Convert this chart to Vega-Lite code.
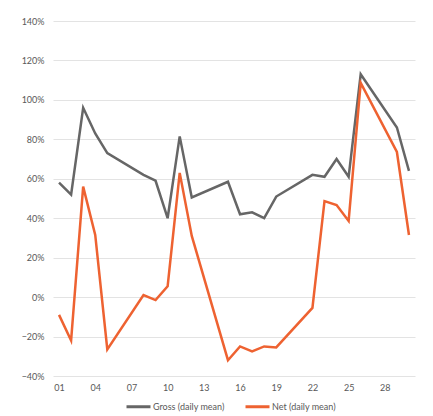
{
  "$schema": "https://vega.github.io/schema/vega-lite/v6.json",
  "autosize": {"type": "none"},
  "width": 362,
  "height": 355,
  "padding": {"left": 53, "top": 21, "right": 18, "bottom": 40},
  "background": "white",
  "config": {
    "view": {"stroke": null},
    "font": "Lato",
    "axis": {"labelColor": "#595959", "labelFontSize": 9, "labelFont": "Lato"},
    "legend": {"labelColor": "#595959", "labelFontSize": 9, "labelFont": "Lato"}
  },
  "data": {
    "values": [
      {"day": "01", "series": "Gross (daily mean)", "value": 0.58},
      {"day": "02", "series": "Gross (daily mean)", "value": 0.52},
      {"day": "03", "series": "Gross (daily mean)", "value": 0.96},
      {"day": "04", "series": "Gross (daily mean)", "value": 0.83},
      {"day": "05", "series": "Gross (daily mean)", "value": 0.73},
      {"day": "08", "series": "Gross (daily mean)", "value": 0.62},
      {"day": "09", "series": "Gross (daily mean)", "value": 0.59},
      {"day": "10", "series": "Gross (daily mean)", "value": 0.40},
      {"day": "11", "series": "Gross (daily mean)", "value": 0.815},
      {"day": "12", "series": "Gross (daily mean)", "value": 0.505},
      {"day": "15", "series": "Gross (daily mean)", "value": 0.585},
      {"day": "16", "series": "Gross (daily mean)", "value": 0.42},
      {"day": "17", "series": "Gross (daily mean)", "value": 0.43},
      {"day": "18", "series": "Gross (daily mean)", "value": 0.40},
      {"day": "19", "series": "Gross (daily mean)", "value": 0.51},
      {"day": "22", "series": "Gross (daily mean)", "value": 0.62},
      {"day": "23", "series": "Gross (daily mean)", "value": 0.61},
      {"day": "24", "series": "Gross (daily mean)", "value": 0.70},
      {"day": "25", "series": "Gross (daily mean)", "value": 0.61},
      {"day": "26", "series": "Gross (daily mean)", "value": 1.13},
      {"day": "29", "series": "Gross (daily mean)", "value": 0.86},
      {"day": "30", "series": "Gross (daily mean)", "value": 0.64},
      {"day": "01", "series": "Net (daily mean)", "value": -0.09},
      {"day": "02", "series": "Net (daily mean)", "value": -0.22},
      {"day": "03", "series": "Net (daily mean)", "value": 0.56},
      {"day": "04", "series": "Net (daily mean)", "value": 0.315},
      {"day": "05", "series": "Net (daily mean)", "value": -0.265},
      {"day": "08", "series": "Net (daily mean)", "value": 0.01},
      {"day": "09", "series": "Net (daily mean)", "value": -0.015},
      {"day": "10", "series": "Net (daily mean)", "value": 0.055},
      {"day": "11", "series": "Net (daily mean)", "value": 0.63},
      {"day": "12", "series": "Net (daily mean)", "value": 0.31},
      {"day": "15", "series": "Net (daily mean)", "value": -0.32},
      {"day": "16", "series": "Net (daily mean)", "value": -0.25},
      {"day": "17", "series": "Net (daily mean)", "value": -0.275},
      {"day": "18", "series": "Net (daily mean)", "value": -0.25},
      {"day": "19", "series": "Net (daily mean)", "value": -0.255},
      {"day": "22", "series": "Net (daily mean)", "value": -0.055},
      {"day": "23", "series": "Net (daily mean)", "value": 0.487},
      {"day": "24", "series": "Net (daily mean)", "value": 0.467},
      {"day": "25", "series": "Net (daily mean)", "value": 0.386},
      {"day": "26", "series": "Net (daily mean)", "value": 1.086},
      {"day": "29", "series": "Net (daily mean)", "value": 0.736},
      {"day": "30", "series": "Net (daily mean)", "value": 0.315}
    ]
  },
  "mark": {"type": "line", "strokeWidth": 2.5, "strokeJoin": "miter"},
  "encoding": {
    "x": {
      "field": "day",
      "type": "ordinal",
      "sort": null,
      "scale": {
        "type": "point",
        "padding": 0.5,
        "domain": ["01","02","03","04","05","06","07","08","09","10","11","12","13","14","15","16","17","18","19","20","21","22","23","24","25","26","27","28","29","30"]
      },
      "axis": {
        "title": null,
        "values": ["01","04","07","10","13","16","19","22","25","28"],
        "labelAngle": 0,
        "domain": false,
        "ticks": false,
        "grid": false,
        "labelPadding": 7
      }
    },
    "y": {
      "field": "value",
      "type": "quantitative",
      "scale": {"domain": [-0.4, 1.4], "nice": false, "zero": false},
      "axis": {
        "title": null,
        "format": ".0%",
        "values": [-0.4, -0.2, 0, 0.2, 0.4, 0.6, 0.8, 1.0, 1.2, 1.4],
        "domain": false,
        "ticks": false,
        "gridColor": "#e3e3e3",
        "gridWidth": 1,
        "labelPadding": 9
      }
    },
    "color": {
      "field": "series",
      "type": "nominal",
      "scale": {
        "domain": ["Gross (daily mean)", "Net (daily mean)"],
        "range": ["#666666", "#EE6231"]
      },
      "legend": {
        "title": null,
        "orient": "none",
        "direction": "horizontal",
        "legendX": 72,
        "legendY": 372,
        "symbolType": "stroke",
        "symbolSize": 576,
        "symbolStrokeWidth": 3,
        "labelOffset": 1,
        "columnPadding": 14
      }
    }
  }
}
